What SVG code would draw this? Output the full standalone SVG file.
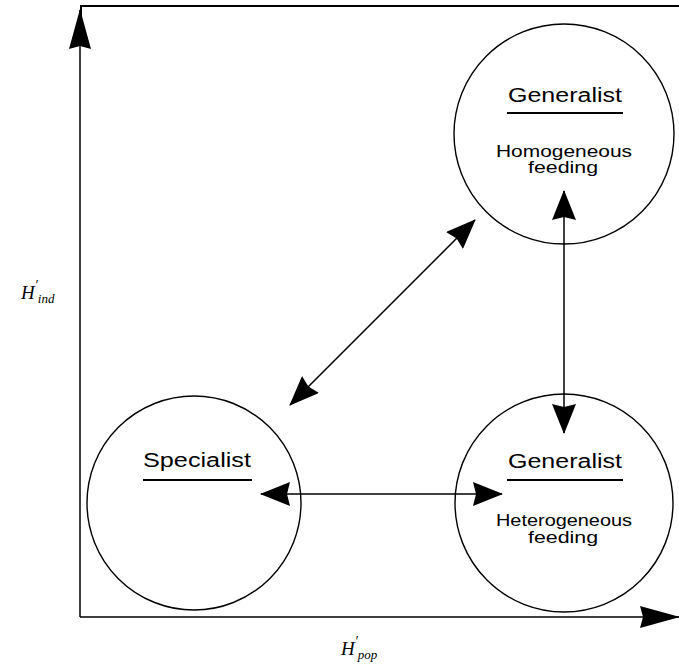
<svg xmlns="http://www.w3.org/2000/svg" width="679" height="668" viewBox="0 0 679 668">
<style>
.c{fill:none;stroke:#000;stroke-width:1.4}
.t{font-family:"Liberation Sans",Arial,sans-serif;font-size:20px;text-anchor:middle;fill:#000}
.s{font-family:"Liberation Sans",Arial,sans-serif;font-size:16px;text-anchor:middle;fill:#000}
.u{stroke:#000;stroke-width:2}
.l{stroke:#000;stroke-width:1.5;fill:none}
.ax{font-family:"Liberation Serif",serif;font-style:italic;font-size:19px;fill:#000}
</style>
<defs>
<marker id="ah" viewBox="0 0 30 24" refX="29" refY="12" markerWidth="30" markerHeight="24" markerUnits="userSpaceOnUse" orient="auto-start-reverse">
<path d="M0,0 L30,12 L0,24 L3,12 Z" fill="#000"/>
</marker>
<marker id="ax" viewBox="0 0 40 22" refX="39" refY="11" markerWidth="40" markerHeight="22" markerUnits="userSpaceOnUse" orient="auto">
<path d="M0,0 L40,11 L0,22 L3,11 Z" fill="#000"/>
</marker>
</defs>
<g id="axes">
<line class="l" x1="80" y1="617" x2="80" y2="10" marker-end="url(#ax)"/>
<line class="l" x1="80" y1="617" x2="679" y2="617" marker-end="url(#ax)"/>
<polyline points="81,40 81,6 679,6" fill="none" stroke="#000" stroke-width="2"/>
<text class="ax" x="21" y="299">H<tspan font-size="14" dy="-9">′</tspan><tspan font-size="13" dy="13">ind</tspan></text>
<text class="ax" x="341" y="655">H<tspan font-size="14" dy="-9">′</tspan><tspan font-size="13" dy="13">pop</tspan></text>
</g>
<g id="gen-homo">
<circle class="c" cx="564" cy="134" r="110"/>
<text class="t" x="565" y="102" textLength="114" lengthAdjust="spacingAndGlyphs">Generalist</text>
<line class="u" x1="507" y1="113" x2="623" y2="113"/>
<text class="s" x="564" y="157" textLength="136" lengthAdjust="spacingAndGlyphs">Homogeneous</text>
<text class="s" x="563" y="173" textLength="70" lengthAdjust="spacingAndGlyphs">feeding</text>
</g>
<g id="gen-hetero">
<circle class="c" cx="564" cy="503" r="109"/>
<text class="t" x="565" y="468" textLength="114" lengthAdjust="spacingAndGlyphs">Generalist</text>
<line class="u" x1="507" y1="480" x2="623" y2="480"/>
<text class="s" x="564" y="526" textLength="136" lengthAdjust="spacingAndGlyphs">Heterogeneous</text>
<text class="s" x="563" y="543" textLength="70" lengthAdjust="spacingAndGlyphs">feeding</text>
</g>
<g id="specialist">
<circle class="c" cx="194" cy="503" r="107"/>
<text class="t" x="197" y="467" textLength="108" lengthAdjust="spacingAndGlyphs">Specialist</text>
<line class="u" x1="143" y1="480" x2="252" y2="480"/>
</g>
<g id="connectors">
<line class="l" x1="290" y1="405" x2="475" y2="220" marker-start="url(#ah)" marker-end="url(#ah)"/>
<line class="l" x1="564" y1="191" x2="564" y2="433" marker-start="url(#ah)" marker-end="url(#ah)"/>
<line class="l" x1="261" y1="494" x2="502" y2="494" marker-start="url(#ah)" marker-end="url(#ah)"/>
</g>
</svg>
